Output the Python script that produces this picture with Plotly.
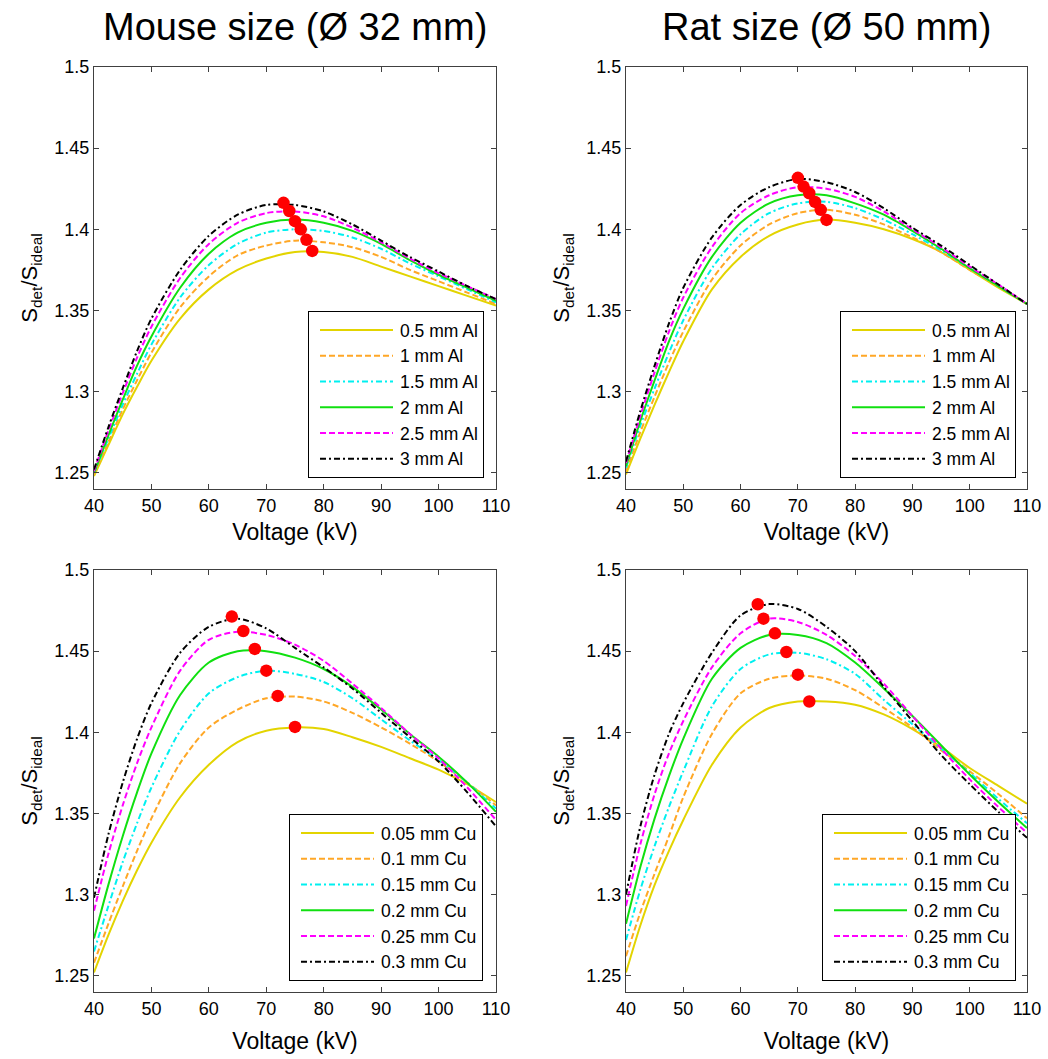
import plotly.graph_objects as go

# ---------------- data ----------------
kv = [40, 42.5, 45, 47.5, 50, 55, 60, 65, 70, 75, 80, 85, 90, 95, 100, 105, 110]

al_labels = ["0.5 mm Al", "1 mm Al", "1.5 mm Al", "2 mm Al", "2.5 mm Al", "3 mm Al"]
cu_labels = ["0.05 mm Cu", "0.1 mm Cu", "0.15 mm Cu", "0.2 mm Cu", "0.25 mm Cu", "0.3 mm Cu"]

# Mouse, Al filters
mouse_al_05 = [1.248, 1.267, 1.286, 1.303, 1.319, 1.345, 1.363, 1.375, 1.382, 1.386, 1.386, 1.383, 1.377, 1.371, 1.365, 1.359, 1.353]
mouse_al_10 = [1.249, 1.269, 1.289, 1.307, 1.324, 1.352, 1.371, 1.384, 1.390, 1.393, 1.392, 1.389, 1.383, 1.375, 1.368, 1.361, 1.354]
mouse_al_15 = [1.250, 1.271, 1.292, 1.311, 1.329, 1.358, 1.378, 1.391, 1.398, 1.400, 1.399, 1.395, 1.388, 1.379, 1.371, 1.363, 1.355]
mouse_al_20 = [1.250, 1.273, 1.295, 1.316, 1.334, 1.364, 1.385, 1.398, 1.404, 1.406, 1.404, 1.399, 1.391, 1.381, 1.372, 1.364, 1.356]
mouse_al_25 = [1.251, 1.276, 1.299, 1.321, 1.340, 1.370, 1.391, 1.404, 1.410, 1.411, 1.408, 1.401, 1.392, 1.382, 1.373, 1.365, 1.357]
mouse_al_30 = [1.252, 1.278, 1.302, 1.325, 1.345, 1.375, 1.396, 1.409, 1.415, 1.415, 1.411, 1.403, 1.393, 1.383, 1.374, 1.365, 1.357]
mouse_al_peak_kv = [78, 77, 76, 75, 74, 73]
mouse_al_peak = [1.3867, 1.3935, 1.400, 1.405, 1.4113, 1.4163]

# Rat, Al filters
rat_al_05 = [1.249, 1.271, 1.292, 1.312, 1.331, 1.363, 1.383, 1.396, 1.403, 1.406, 1.404, 1.400, 1.394, 1.386, 1.375, 1.364, 1.354]
rat_al_10 = [1.251, 1.275, 1.297, 1.318, 1.337, 1.369, 1.390, 1.403, 1.410, 1.412, 1.409, 1.403, 1.395, 1.386, 1.375, 1.365, 1.354]
rat_al_15 = [1.253, 1.279, 1.302, 1.324, 1.344, 1.376, 1.397, 1.410, 1.416, 1.417, 1.413, 1.406, 1.397, 1.387, 1.376, 1.365, 1.354]
rat_al_20 = [1.254, 1.282, 1.307, 1.331, 1.351, 1.383, 1.404, 1.416, 1.421, 1.421, 1.416, 1.409, 1.399, 1.388, 1.376, 1.365, 1.354]
rat_al_25 = [1.256, 1.285, 1.312, 1.337, 1.358, 1.389, 1.410, 1.421, 1.426, 1.425, 1.420, 1.411, 1.400, 1.389, 1.377, 1.366, 1.354]
rat_al_30 = [1.257, 1.288, 1.316, 1.342, 1.364, 1.395, 1.415, 1.426, 1.431, 1.429, 1.423, 1.413, 1.401, 1.390, 1.378, 1.366, 1.354]
rat_al_peak_kv = [75, 74, 73, 72, 71, 70]
rat_al_peak = [1.4058, 1.412, 1.4169, 1.4222, 1.4263, 1.4317]

# Mouse, Cu filters
mouse_cu_005 = [1.252, 1.275, 1.296, 1.315, 1.332, 1.360, 1.380, 1.394, 1.401, 1.403, 1.402, 1.397, 1.391, 1.384, 1.377, 1.368, 1.357]
mouse_cu_010 = [1.258, 1.282, 1.305, 1.327, 1.347, 1.381, 1.403, 1.414, 1.421, 1.422, 1.419, 1.412, 1.403, 1.393, 1.382, 1.369, 1.355]
mouse_cu_015 = [1.265, 1.293, 1.320, 1.344, 1.366, 1.401, 1.424, 1.434, 1.438, 1.436, 1.431, 1.421, 1.408, 1.395, 1.383, 1.369, 1.353]
mouse_cu_020 = [1.273, 1.306, 1.336, 1.363, 1.387, 1.423, 1.443, 1.450, 1.450, 1.446, 1.439, 1.428, 1.414, 1.399, 1.385, 1.369, 1.351]
mouse_cu_025 = [1.290, 1.325, 1.355, 1.381, 1.403, 1.438, 1.457, 1.462, 1.460, 1.454, 1.444, 1.430, 1.415, 1.399, 1.384, 1.366, 1.346]
mouse_cu_030 = [1.298, 1.337, 1.369, 1.396, 1.418, 1.449, 1.465, 1.470, 1.464, 1.452, 1.440, 1.427, 1.412, 1.397, 1.382, 1.363, 1.342]
mouse_cu_peak_kv = [75, 72, 70, 68, 66, 64]
mouse_cu_peak = [1.4033, 1.4224, 1.438, 1.4514, 1.4624, 1.4713]

# Rat, Cu filters
rat_cu_005 = [1.252, 1.281, 1.306, 1.327, 1.346, 1.380, 1.403, 1.415, 1.419, 1.419, 1.417, 1.411, 1.402, 1.391, 1.378, 1.367, 1.356]
rat_cu_010 = [1.262, 1.289, 1.313, 1.336, 1.360, 1.399, 1.424, 1.433, 1.435, 1.433, 1.426, 1.415, 1.403, 1.389, 1.376, 1.362, 1.347]
rat_cu_015 = [1.272, 1.303, 1.330, 1.354, 1.376, 1.416, 1.439, 1.448, 1.449, 1.445, 1.436, 1.420, 1.405, 1.390, 1.375, 1.359, 1.344]
rat_cu_020 = [1.282, 1.317, 1.347, 1.373, 1.396, 1.433, 1.452, 1.460, 1.460, 1.455, 1.443, 1.427, 1.410, 1.392, 1.374, 1.357, 1.341]
rat_cu_025 = [1.293, 1.331, 1.362, 1.387, 1.407, 1.440, 1.461, 1.470, 1.468, 1.460, 1.447, 1.430, 1.410, 1.390, 1.371, 1.354, 1.338]
rat_cu_030 = [1.300, 1.342, 1.374, 1.399, 1.418, 1.449, 1.472, 1.479, 1.476, 1.465, 1.450, 1.428, 1.407, 1.386, 1.368, 1.351, 1.335]
rat_cu_peak_kv = [72, 70, 68, 66, 64, 63]
rat_cu_peak = [1.419, 1.4355, 1.4495, 1.461, 1.470, 1.4789]

panel_titles = ["Mouse size (Ø 32 mm)", "Rat size (Ø 50 mm)"]
x_ticks = [40, 50, 60, 70, 80, 90, 100, 110]
y_ticks = [1.25, 1.3, 1.35, 1.4, 1.45, 1.5]
y_ticktext = ["1.25", "1.3", "1.35", "1.4", "1.45", "1.5"]

# ---------------- styling ----------------
colors = ["#E3D400", "#FFA726", "#00F0F0", "#10E010", "#FF00FF", "#000000"]
dashes = ["solid", "6px,3px", "6px,3px,2px,3px", "solid", "6px,3px", "6px,3px,2px,3px"]
FONT = "Liberation Sans, Arial, sans-serif"

panels = [
    (al_labels, [mouse_al_05, mouse_al_10, mouse_al_15, mouse_al_20, mouse_al_25, mouse_al_30], mouse_al_peak_kv, mouse_al_peak),
    (al_labels, [rat_al_05, rat_al_10, rat_al_15, rat_al_20, rat_al_25, rat_al_30], rat_al_peak_kv, rat_al_peak),
    (cu_labels, [mouse_cu_005, mouse_cu_010, mouse_cu_015, mouse_cu_020, mouse_cu_025, mouse_cu_030], mouse_cu_peak_kv, mouse_cu_peak),
    (cu_labels, [rat_cu_005, rat_cu_010, rat_cu_015, rat_cu_020, rat_cu_025, rat_cu_030], rat_cu_peak_kv, rat_cu_peak),
]

W, H = 1048, 1059
xdoms = [[94 / W, 496 / W], [626 / W, 1027 / W]]
ydoms = [[1 - 489 / H, 1 - 67 / H], [1 - 992 / H, 1 - 570 / H]]
xtitle_standoff = [9, 15]
legend_pos = [(484 / W, 1 - 478 / H), (1016 / W, 1 - 478 / H),
              (483 / W, 1 - 981 / H), (1016 / W, 1 - 981 / H)]

fig = go.Figure()
layout = dict(
    width=W, height=H, margin=dict(l=0, r=0, t=0, b=0, pad=0),
    paper_bgcolor="white", plot_bgcolor="white",
    font=dict(family=FONT, color="black", size=18),
    annotations=[],
)

for i, (labels, series, pk_kv, pk_val) in enumerate(panels):
    n = i + 1
    xa = "x" if n == 1 else f"x{n}"
    ya = "y" if n == 1 else f"y{n}"
    lg = "legend" if n == 1 else f"legend{n}"
    for lab, vals, c, d in zip(labels, series, colors, dashes):
        fig.add_trace(go.Scatter(
            x=kv, y=vals, name=lab, mode="lines", xaxis=xa, yaxis=ya, legend=lg,
            line=dict(color=c, width=2, dash=d, shape="spline", smoothing=0.8),
        ))
    fig.add_trace(go.Scatter(
        x=pk_kv, y=pk_val, mode="markers", xaxis=xa, yaxis=ya, showlegend=False,
        marker=dict(color="#FF0000", size=12.5, line=dict(width=0)),
    ))
    col, row = i % 2, i // 2
    axis_common = dict(showline=True, linecolor="#404040", linewidth=1, mirror="ticks",
                       ticks="inside", ticklen=5, tickcolor="#404040", automargin=False,
                       showgrid=False, zeroline=False, tickfont=dict(size=18, family=FONT))
    layout[f"xaxis{'' if n == 1 else n}"] = dict(
        axis_common, domain=xdoms[col], anchor=ya, range=[40, 110],
        tickvals=x_ticks,
        title=dict(text="Voltage (kV)", font=dict(size=23, family=FONT), standoff=xtitle_standoff[row]))
    layout[f"yaxis{'' if n == 1 else n}"] = dict(
        axis_common, domain=ydoms[row], anchor=xa, range=[1.24, 1.5],
        tickvals=y_ticks, ticktext=y_ticktext,
        title=dict(text="S<sub>det</sub>/S<sub>ideal</sub>", font=dict(size=22, family=FONT), standoff=10))
    lx, ly = legend_pos[i]
    layout[lg] = dict(x=lx, y=ly, xanchor="right", yanchor="bottom",
                      bordercolor="black", borderwidth=1, bgcolor="white",
                      font=dict(size=17.5, family=FONT), traceorder="normal",
                      itemwidth=81, tracegroupgap=0)

for j, t in enumerate(panel_titles):
    layout["annotations"].append(dict(
        text=t, x=(xdoms[j][0] + xdoms[j][1]) / 2, y=1 - 27 / H, xref="paper", yref="paper",
        xanchor="center", yanchor="middle", showarrow=False,
        font=dict(size=38, family=FONT, color="black")))

fig.update_layout(**layout)

# page tweaks: no body margin, longer legend line samples (as in the original figure)
post = """
document.body.style.margin = '0';
document.documentElement.style.overflow = 'hidden';
document.querySelectorAll('.legendlines path').forEach(function (p) {
    p.setAttribute('d', 'M11,0h73');
});
"""
fig.write_html("out.html", post_script=post, config={"displayModeBar": False})
